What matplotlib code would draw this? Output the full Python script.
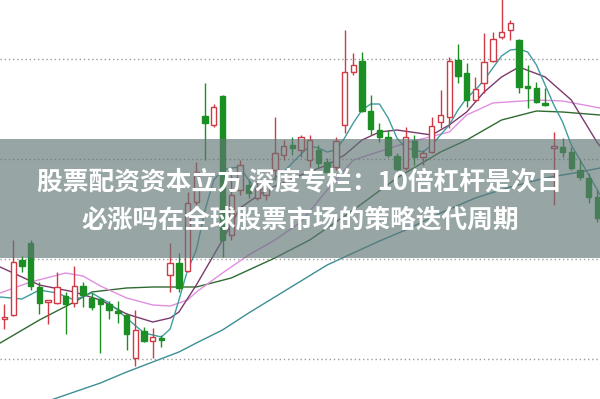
"""Candlestick chart with moving averages and a headline banner."""

import numpy as np
import matplotlib
matplotlib.use("Agg")
import matplotlib.pyplot as plt
from matplotlib.patches import Rectangle


# ── Data ──────────────────────────────────────────────────────────────

opens = [10.80, 10.88, 11.98, 12.32, 11.44, 11.14, 11.12, 11.26, 11.12, 11.46,
         11.22, 11.20, 11.10, 10.94, 10.88, 10.02, 10.56, 10.36, 10.40, 11.68,
         11.92, 11.76, 13.14, 14.86, 14.68, 15.26, 12.48, 13.38, 13.48, 13.22,
         13.28, 13.78, 14.08, 14.28, 14.18, 13.98, 14.18, 13.94, 13.84, 14.68,
         15.74, 15.96, 14.96, 14.58, 14.44, 14.06, 13.82, 14.36, 14.04, 14.14,
         14.74, 14.84, 15.98, 15.72, 15.18, 15.52, 15.96, 16.44, 16.58, 16.38,
         15.44, 15.42, 15.10, 14.22, 14.24, 14.14, 13.78, 13.62, 13.24]
highs = [11.10, 12.38, 12.06, 12.38, 11.54, 11.18, 11.74, 11.34, 11.86, 11.54,
         11.32, 11.22, 11.16, 11.16, 10.92, 10.98, 10.64, 10.62, 10.48, 12.32,
         12.12, 13.34, 13.94, 15.52, 15.10, 15.28, 13.84, 13.98, 13.58, 13.58,
         13.62, 14.84, 14.38, 14.44, 14.48, 14.48, 14.28, 14.02, 14.44, 16.58,
         16.12, 16.14, 15.28, 14.72, 14.58, 14.12, 14.64, 14.48, 14.18, 14.84,
         15.38, 16.04, 16.30, 15.92, 15.64, 16.52, 16.54, 17.28, 16.78, 16.40,
         15.88, 15.54, 15.42, 14.54, 14.42, 14.24, 13.98, 13.72, 13.38]
lows = [10.60, 10.86, 11.74, 11.38, 10.90, 10.70, 11.10, 10.50, 11.04, 11.04,
        10.98, 10.12, 10.80, 10.72, 10.18, 9.86, 10.34, 10.02, 10.24, 11.34,
        11.34, 11.74, 13.08, 13.98, 14.64, 12.04, 12.38, 13.28, 13.22, 13.18,
        13.18, 13.58, 13.98, 14.08, 14.04, 13.84, 13.82, 13.68, 13.78, 14.52,
        15.68, 14.94, 14.48, 14.34, 14.04, 13.76, 13.78, 13.88, 13.88, 14.12,
        14.62, 14.62, 15.52, 15.04, 15.14, 15.32, 15.94, 16.40, 16.38, 15.32,
        15.02, 15.12, 15.06, 13.08, 14.04, 13.78, 13.58, 13.12, 12.74]
closes = [10.84, 11.94, 11.86, 11.46, 11.12, 11.16, 11.44, 11.10, 11.46, 11.28,
          11.04, 11.10, 10.98, 10.92, 10.50, 10.58, 10.36, 10.44, 10.38, 11.92,
          11.42, 13.12, 13.74, 14.72, 15.04, 12.38, 13.28, 13.88, 13.32, 13.42,
          13.48, 14.12, 14.26, 14.22, 14.44, 14.38, 13.92, 13.74, 14.36, 15.74,
          15.88, 14.96, 14.60, 14.44, 14.08, 13.80, 14.44, 14.04, 14.12, 14.66,
          14.88, 15.96, 15.66, 15.18, 15.40, 15.94, 16.40, 16.54, 16.72, 15.44,
          15.42, 15.14, 15.08, 14.24, 14.14, 13.82, 13.64, 13.24, 12.82]

# moving averages: (candle index, price)
ma5_idx = [-0.5, 2, 4, 6, 8, 10, 12, 14, 16, 18, 19, 20, 21, 22, 23, 24, 25,
           26, 27, 28, 29, 30, 31, 32, 33, 34, 35, 36, 37, 38, 39, 40, 41, 42,
           43, 44, 45, 46, 47, 48, 49, 50, 51, 52, 53, 54, 55, 56, 57, 58, 59,
           60, 61, 62, 63, 64, 65, 66, 67, 68, 68.3]
ma5_val = [11.24, 11.20, 11.38, 11.32, 11.18, 11.32, 11.12, 10.82, 10.52, 10.44,
           10.60, 11.18, 11.78, 12.18, 12.98, 13.58, 13.78, 13.82, 13.84, 13.58,
           13.34, 13.44, 13.62, 13.74, 13.92, 14.10, 14.26, 14.22, 14.14, 14.18,
           14.42, 14.72, 14.98, 15.10, 15.10, 14.82, 14.42, 14.22, 14.18, 14.14,
           14.28, 14.48, 14.68, 14.98, 15.22, 15.38, 15.58, 15.82, 16.06, 16.18,
           16.20, 16.14, 15.88, 15.48, 15.08, 14.74, 14.28, 13.98, 13.68, 13.38,
           13.28]
ma10_idx = [-0.5, 4, 8, 11, 14, 17, 19, 20, 22, 25, 27, 30, 34, 37, 39, 41, 43,
            45, 49, 51, 53, 55, 57, 59, 62, 65, 68, 68.3]
ma10_val = [11.84, 11.48, 11.34, 11.18, 10.90, 10.74, 10.82, 10.94, 11.48, 12.38,
            13.02, 13.38, 13.68, 13.88, 14.08, 14.38, 14.54, 14.58, 14.48, 14.68,
            14.94, 15.34, 15.64, 15.84, 15.64, 15.18, 14.32, 14.26]
ma20_idx = [-0.5, 3, 7, 9, 11, 14, 17, 19, 21, 22, 25, 28, 31, 34, 37, 40, 46,
            51, 53, 56, 61, 64, 68.3]
ma20_val = [11.32, 11.54, 11.72, 11.66, 11.46, 11.22, 11.08, 11.06, 11.18, 11.34,
            11.72, 12.08, 12.38, 12.74, 13.38, 13.98, 14.32, 14.54, 14.88, 15.12,
            15.18, 15.16, 15.02]
ma60_idx = [-0.5, 4, 8, 10, 14, 17, 22, 26, 31, 35, 40, 45, 50, 53, 57, 61, 64,
            68.3]
ma60_val = [10.32, 10.78, 11.14, 11.34, 11.42, 11.44, 11.44, 11.62, 12.02, 12.38,
            12.98, 13.62, 14.14, 14.38, 14.78, 14.96, 14.94, 14.88]
ma120_idx = [5, 8, 11, 14, 17, 20, 22, 25, 28, 31, 34, 37, 39, 43, 46, 50, 54,
             58, 62, 66, 68.3]
ma120_val = [9.16, 9.34, 9.52, 9.74, 9.94, 10.14, 10.32, 10.58, 10.92, 11.24,
             11.56, 11.88, 12.04, 12.36, 12.58, 12.92, 13.22, 13.44, 13.62, 13.74,
             13.82]

grid_levels = [10, 12, 14, 16]

title_lines = ["股票配资资本立方 深度专栏：10倍杠杆是次日",
               "必涨吗在全球股票市场的策略迭代周期"]


# ── Style ─────────────────────────────────────────────────────────────

RED = "#cf3a44"
GREEN = "#1b8f24"
MA_COLORS = {
    "ma5": "#3f9da0",
    "ma10": "#7b3a6c",
    "ma20": "#e08fe0",
    "ma60": "#2f6b30",
    "ma120": "#3c8f94",
}

plt.rcParams["font.family"] = ["Noto Sans CJK SC", "DejaVu Sans"]

fig = plt.figure(figsize=(6.0, 3.99), dpi=100)
ax = fig.add_axes([0, 0, 1, 1])
ax.set_xlim(-0.516, 68.29)
ax.set_ylim(9.2, 17.18)
ax.axis("off")


# ── Grid ──────────────────────────────────────────────────────────────

for lvl in grid_levels:
    ax.axhline(lvl, color="#9a9a9a", lw=1.0, ls=(0, (1, 2)), zorder=1)


# ── Moving averages ───────────────────────────────────────────────────

ax.plot(ma120_idx, ma120_val, color=MA_COLORS["ma120"], lw=1.0, zorder=2)
ax.plot(ma60_idx, ma60_val, color=MA_COLORS["ma60"], lw=1.0, zorder=2)
ax.plot(ma20_idx, ma20_val, color=MA_COLORS["ma20"], lw=1.0, zorder=2)
ax.plot(ma10_idx, ma10_val, color=MA_COLORS["ma10"], lw=1.0, zorder=2)
ax.plot(ma5_idx, ma5_val, color=MA_COLORS["ma5"], lw=1.0, zorder=2)


# ── Candles ───────────────────────────────────────────────────────────

o = np.array(opens)
h = np.array(highs)
l = np.array(lows)
c = np.array(closes)
x = np.arange(len(o))
up = c >= o
col = np.where(up, RED, GREEN)

ax.vlines(x, l, h, colors=col, lw=1.0, zorder=3)

body_lo = np.minimum(o, c)
body_h = np.maximum(np.abs(c - o), 0.04)
ax.bar(x[up], body_h[up], bottom=body_lo[up], width=0.62,
       facecolor="white", edgecolor=RED, lw=1.0, zorder=4)
ax.bar(x[~up], body_h[~up], bottom=body_lo[~up], width=0.62,
       facecolor=GREEN, edgecolor=GREEN, lw=1.0, zorder=4)


# ── Banner ────────────────────────────────────────────────────────────

ax.add_patch(Rectangle((0, 1 - 258 / 399), 1, 119 / 399,
                       transform=ax.transAxes, facecolor="#5f7575",
                       alpha=0.65, edgecolor="none", zorder=10))
ax.text(0.5, 1 - 183 / 399, title_lines[0], transform=ax.transAxes,
        ha="center", va="center", color="white", fontsize=18.5,
        fontweight="bold", zorder=11)
ax.text(0.5, 1 - 220 / 399, title_lines[1], transform=ax.transAxes,
        ha="center", va="center", color="white", fontsize=18.5,
        fontweight="bold", zorder=11)

fig.savefig("out.png", dpi=100)
